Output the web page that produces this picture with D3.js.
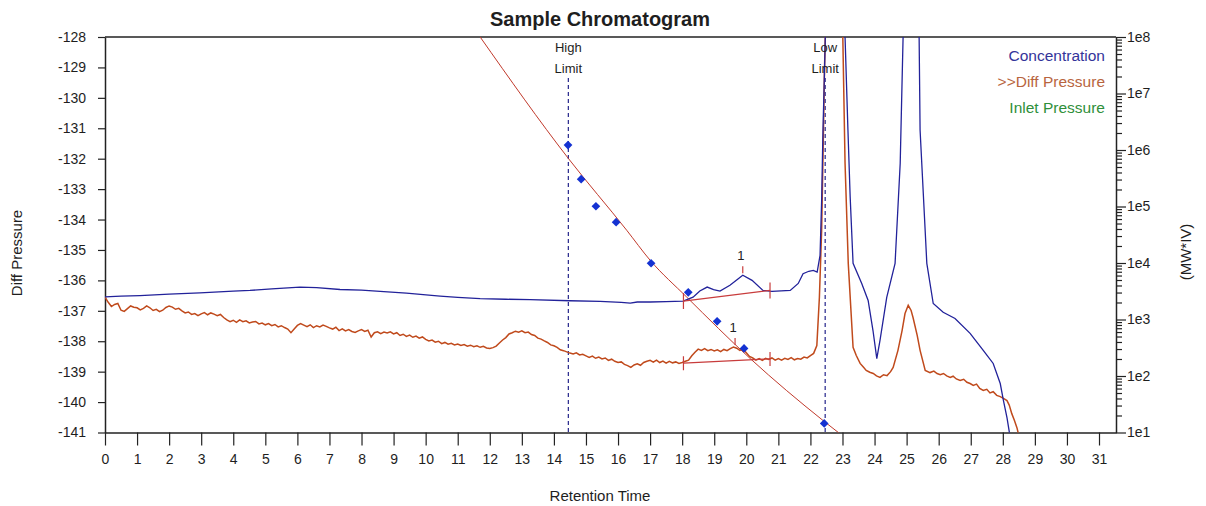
<!DOCTYPE html>
<html>
<head>
<meta charset="utf-8">
<script src="https://cdn.jsdelivr.net/npm/d3@7"></script>
<style>
  body { margin: 0; background: #fff; }
  text { font-family: "Liberation Sans", Arial, sans-serif; fill: #1e1e1e; }
</style>
</head>
<body>
<svg id="chart" width="1206" height="506"></svg>
<script>
// tick values
var timeTicks = d3.range(0, 32)
var pressureTicks = d3.range(-141, -127)

// concentration trace (plotted against the Diff Pressure scale)
var concTime = [0, 0.5, 1.09, 2.0, 2.96, 4.0, 4.52, 5.2, 6.08, 6.6, 7.33, 8.0, 8.58, 9.4, 10.45, 11.0, 11.7, 12.5, 13.26,
   14.5, 15.44, 16.1, 16.38, 16.6, 17.0, 17.5, 18.03, 18.34, 18.55, 18.78, 18.98, 19.18, 19.49, 19.89, 20.18, 20.52,
   20.8, 21.37, 21.62, 21.77, 21.95, 22.09, 22.21, 22.3, 22.35, 22.39, 22.44, 22.49, 22.8, 23.08, 23.17, 23.24, 23.33,
   23.6, 23.8, 23.95, 24.07, 24.17, 24.38, 24.64, 24.8, 24.89, 25.14, 25.39, 25.42, 25.63, 25.83, 26.14, 26.51, 26.98,
   27.39, 27.7, 27.92, 28.02, 28.13, 28.21]
var concValue = [-136.54, -136.52, -136.50, -136.45, -136.41, -136.35, -136.33, -136.28, -136.22, -136.24, -136.30,
   -136.32, -136.36, -136.42, -136.52, -136.56, -136.60, -136.62, -136.63, -136.67, -136.69, -136.72, -136.75, -136.71,
   -136.71, -136.70, -136.68, -136.55, -136.35, -136.22, -136.30, -136.35, -136.16, -135.83, -136.00, -136.33, -136.36,
   -136.33, -136.10, -135.78, -135.70, -135.67, -135.73, -135.18, -133.37, -131.12, -129.09, -126.78, -121.0, -128.0,
   -131.06, -133.27, -135.44, -136.10, -136.66, -137.64, -138.57, -137.97, -136.56, -135.44, -132.15, -128.0, -120.0,
   -128.0, -131.06, -135.44, -136.76, -137.05, -137.25, -137.74, -138.30, -138.73, -139.39, -139.95, -140.51, -141.03]

// diff pressure trace: sampled every 0.1 min up to 22.2 min, then the peak region
var dpSampleValue = [
   -136.55, -136.72, -136.86, -136.79, -136.76, -136.98, -137.02, -136.93, -136.84, -136.88,
   -136.90, -136.97, -136.92, -136.84, -136.90, -136.99, -136.95, -137.03, -136.98, -136.89,
   -136.84, -136.88, -136.95, -136.92, -137.00, -137.07, -137.04, -137.12, -137.09, -137.16,
   -137.10, -137.06, -137.13, -137.07, -137.11, -137.16, -137.12, -137.22, -137.30, -137.36,
   -137.31, -137.38, -137.30, -137.36, -137.33, -137.40, -137.37, -137.35, -137.43, -137.40,
   -137.46, -137.42, -137.49, -137.45, -137.53, -137.49, -137.55, -137.60, -137.72, -137.60,
   -137.48, -137.42, -137.47, -137.52, -137.46, -137.55, -137.49, -137.53, -137.47, -137.51,
   -137.56, -137.60, -137.54, -137.65, -137.59, -137.66, -137.62, -137.68, -137.71, -137.66,
   -137.62, -137.68, -137.64, -137.86, -137.72, -137.69, -137.75, -137.70, -137.73, -137.69,
   -137.76, -137.72, -137.81, -137.77, -137.84, -137.80, -137.87, -137.83, -137.90, -137.86,
   -137.94, -137.99, -137.96, -138.03, -138.00, -138.08, -138.04, -138.10, -138.07, -138.12,
   -138.09, -138.14, -138.11, -138.16, -138.13, -138.18, -138.15, -138.20, -138.17, -138.22,
   -138.24, -138.21, -138.16, -138.06, -137.96, -137.88, -137.76, -137.72, -137.67, -137.70,
   -137.66, -137.72, -137.70, -137.78, -137.81, -137.90, -137.93, -137.99, -138.04, -138.12,
   -138.15, -138.20, -138.28, -138.31, -138.35, -138.39, -138.42, -138.38, -138.45, -138.43,
   -138.48, -138.53, -138.49, -138.56, -138.52, -138.58, -138.55, -138.63, -138.59, -138.66,
   -138.70, -138.68, -138.76, -138.80, -138.86, -138.78, -138.74, -138.79, -138.70, -138.66,
   -138.63, -138.69, -138.62, -138.70, -138.65, -138.72, -138.66, -138.71, -138.68, -138.73,
   -138.70, -138.66, -138.62, -138.48, -138.36, -138.26, -138.30, -138.24, -138.31, -138.27,
   -138.32, -138.28, -138.34, -138.27, -138.31, -138.24, -138.19, -138.23, -138.30, -138.26,
   -138.38, -138.50, -138.55, -138.62, -138.57, -138.63, -138.56, -138.60, -138.55, -138.62,
   -138.57, -138.62, -138.56, -138.60, -138.54, -138.61, -138.57, -138.59, -138.52, -138.55,
   -138.47, -138.40, -138.14]
var dpPeakTime = [22.28, 22.35, 22.4, 22.44, 22.5, 22.75, 23.01, 23.08, 23.18, 23.33, 23.43, 23.55, 23.65, 23.74, 23.85,
   23.96, 24.06, 24.17, 24.28, 24.39, 24.5, 24.58, 24.73, 24.86, 24.95, 25.05, 25.14, 25.2, 25.33, 25.42, 25.58, 25.73,
   25.85, 25.95, 26.05, 26.15, 26.25, 26.36, 26.45, 26.55, 26.67, 26.78, 26.88, 26.98, 27.08, 27.18, 27.28, 27.39, 27.5,
   27.6, 27.7, 27.81, 27.92, 28.02, 28.13, 28.2, 28.28, 28.36, 28.44, 28.5]
var dpPeakValue = [-136.55, -134.35, -131.5, -129.0, -126.5, -121.0, -128.0, -132.15, -135.44, -138.20, -138.47,
   -138.73, -138.85, -138.96, -139.02, -139.06, -139.14, -139.19, -139.10, -139.13, -139.00, -138.86, -138.30, -137.64,
   -137.09, -136.82, -136.99, -137.22, -137.81, -138.30, -138.96, -139.03, -138.98, -139.06, -139.10, -139.06, -139.14,
   -139.19, -139.15, -139.24, -139.29, -139.25, -139.35, -139.39, -139.45, -139.41, -139.55, -139.62, -139.58, -139.70,
   -139.66, -139.78, -139.82, -139.88, -139.95, -140.10, -140.38, -140.60, -140.84, -141.10]

// calibration standards and fitted curve (right axis, MW*IV)
var calTime = [14.44, 14.85, 15.31, 15.94, 17.03, 18.19, 19.09, 19.93, 22.43]
var calMW = [1.22e6, 3.05e5, 1.01e5, 5.27e4, 9.9e3, 3.03e3, 927, 308, 14.5]
var fitTime = [11.70, 14.45, 16.27, 17.0, 18.14, 20.12, 22.40, 22.92]
var fitMW = [1e8, 7.1e5, 3.8e4, 1.12e4, 2.5e3, 204, 16.2, 9.5]

// integration limits
var limitNames = ["High", "Low"]
var limitTime = [14.45, 22.46]

// peak 1 baselines and apex
var concBaseTime = [18.04, 20.74], concBaseValue = [-136.68, -136.33]
var concApex = [19.89, -135.83]
var dpBaseTime = [18.04, 20.74], dpBaseValue = [-138.72, -138.58]
var dpApex = [19.65, -138.19]

var legendNames = ["Concentration", ">>Diff Pressure", "Inlet Pressure"]
var legendColors = ["#34349a", "#b8653e", "#2f8f3a"]

var svg = d3.select("#chart")
var plotLeft = 105, plotRight = 1116, plotTop = 37, plotBottom = 432.5

var x = d3.scaleLinear().domain([0, 31.53]).range([plotLeft, plotRight])
var y = d3.scaleLinear().domain([-141, -128]).range([plotBottom, plotTop])
var yR = d3.scaleLog().domain([10, 1e8]).range([plotBottom, plotTop])

svg.append("defs").append("clipPath").attr("id", "plot-clip")
   .append("rect")
   .attr("x", plotLeft).attr("y", plotTop)
   .attr("width", plotRight - plotLeft).attr("height", plotBottom - plotTop)

// title and axis titles
svg.append("text")
   .attr("x", 600).attr("y", 26)
   .attr("text-anchor", "middle")
   .style("font-size", "20px").style("font-weight", "bold")
   .text("Sample Chromatogram")

svg.append("text")
   .attr("transform", "translate(22, 253) rotate(-90)")
   .attr("text-anchor", "middle")
   .style("font-size", "15px")
   .text("Diff Pressure")

svg.append("text")
   .attr("transform", "translate(1191, 252) rotate(-90)")
   .attr("text-anchor", "middle")
   .style("font-size", "15px")
   .text("(MW*IV)")

svg.append("text")
   .attr("x", 600).attr("y", 501)
   .attr("text-anchor", "middle")
   .style("font-size", "15px")
   .text("Retention Time")

// axes
svg.append("g")
   .attr("transform", "translate(" + plotLeft + ",0)")
   .call(d3.axisLeft(y).tickValues(pressureTicks).tickFormat(d => String(d))
      .tickSize(7).tickPadding(12).tickSizeOuter(0))

svg.append("g")
   .attr("transform", "translate(0," + plotBottom + ")")
   .call(d3.axisBottom(x).tickValues(timeTicks).tickSize(13).tickPadding(9).tickSizeOuter(0))

function isDecade(d) {
   var e = Math.log10(d)
   return Math.abs(e - Math.round(e)) < 1e-9
}

var rightAxis = svg.append("g")
   .attr("transform", "translate(" + plotRight + ",0)")
   .call(d3.axisRight(yR).tickValues(yR.ticks())
      .tickFormat(d => isDecade(d) ? "1e" + Math.round(Math.log10(d)) : "")
      .tickSize(6).tickPadding(5).tickSizeOuter(0))

rightAxis.selectAll(".tick").filter(d => isDecade(d)).select("line").attr("x2", 10)
rightAxis.selectAll(".tick text").attr("x", 11)

svg.selectAll(".domain").attr("stroke", "#222").attr("stroke-width", 1.5)
svg.selectAll(".tick line").attr("stroke", "#222").attr("stroke-width", 1.2)
svg.selectAll(".tick text").style("font-size", "14px").attr("fill", "#1e1e1e")

// frame top edge
svg.append("line")
   .attr("x1", plotLeft).attr("x2", plotRight)
   .attr("y1", plotTop).attr("y2", plotTop)
   .attr("stroke", "#222").attr("stroke-width", 1.5)

var plot = svg.append("g").attr("clip-path", "url(#plot-clip)")

// limit lines
limitTime.forEach(function(t, i) {
   plot.append("line")
      .attr("x1", x(t)).attr("x2", x(t))
      .attr("y1", plotTop + 41).attr("y2", plotBottom)
      .attr("stroke", "#23238a").attr("stroke-width", 1.2)
      .attr("stroke-dasharray", "4,3")
   svg.append("text")
      .attr("x", x(t)).attr("y", plotTop + 15)
      .attr("text-anchor", "middle").style("font-size", "13px")
      .text(limitNames[i])
   svg.append("text")
      .attr("x", x(t)).attr("y", plotTop + 36)
      .attr("text-anchor", "middle").style("font-size", "13px")
      .text("Limit")
})

// calibration curve
var fitLine = d3.line()
   .x(d => x(d[0])).y(d => yR(d[1]))
   .curve(d3.curveMonotoneX)
plot.append("path")
   .datum(fitTime.map((t, i) => [t, fitMW[i]]))
   .attr("d", fitLine)
   .attr("fill", "none")
   .attr("stroke", "#c0392b").attr("stroke-width", 1)

var line = d3.line().x(d => x(d[0])).y(d => y(d[1]))

var dpPoints = dpSampleValue.map((v, i) => [i / 10, v])
   .concat(dpPeakTime.map((t, i) => [t, dpPeakValue[i]]))
var concPoints = concTime.map((t, i) => [t, concValue[i]])

plot.append("path")
   .datum(dpPoints)
   .attr("d", line)
   .attr("fill", "none")
   .attr("stroke", "#c04a1c")
   .attr("stroke-width", 1.5)

plot.append("path")
   .datum(concPoints)
   .attr("d", line)
   .attr("fill", "none")
   .attr("stroke", "#22229a")
   .attr("stroke-width", 1.3)

// peak baselines, end marks and apex marks
function drawPeak(baseTime, baseValue, apex, markHalf) {
   plot.append("line")
      .attr("x1", x(baseTime[0])).attr("y1", y(baseValue[0]))
      .attr("x2", x(baseTime[1])).attr("y2", y(baseValue[1]))
      .attr("stroke", "#c83c3c").attr("stroke-width", 1.2)
   baseTime.forEach(function(t, i) {
      plot.append("line")
         .attr("x1", x(t)).attr("x2", x(t))
         .attr("y1", y(baseValue[i]) - markHalf).attr("y2", y(baseValue[i]) + markHalf)
         .attr("stroke", "#c83c3c").attr("stroke-width", 1.2)
   })
   plot.append("line")
      .attr("x1", x(apex[0])).attr("x2", x(apex[0]))
      .attr("y1", y(apex[1]) - 2).attr("y2", y(apex[1]) - 9)
      .attr("stroke", "#c83c3c").attr("stroke-width", 1.2)
   svg.append("text")
      .attr("x", x(apex[0]) - 2).attr("y", y(apex[1]) - 15)
      .attr("text-anchor", "middle").style("font-size", "13px")
      .text("1")
}
drawPeak(concBaseTime, concBaseValue, concApex, 8)
drawPeak(dpBaseTime, dpBaseValue, dpApex, 7)

// calibration standards
plot.selectAll(".cal")
   .data(calTime)
   .join("path")
   .attr("class", "cal")
   .attr("d", d3.symbol(d3.symbolSquare, 38))
   .attr("transform", (d, i) => "translate(" + x(d) + "," + yR(calMW[i]) + ") rotate(45)")
   .attr("fill", "#1432d2")

// legend
svg.selectAll(".legend")
   .data(legendNames)
   .join("text")
   .attr("class", "legend")
   .attr("x", 1105)
   .attr("y", (d, i) => 56 + i * 26)
   .attr("dy", "0.35em")
   .attr("text-anchor", "end")
   .style("font-size", "15.5px")
   .style("fill", (d, i) => legendColors[i])
   .text(d => d)
</script>
</body>
</html>
